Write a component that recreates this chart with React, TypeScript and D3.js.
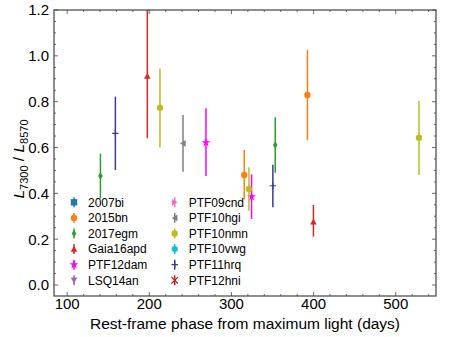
import React from "react";
import * as d3 from "d3";

// supernova names, legend order
const names = [
  "2007bi", "2015bn", "2017egm", "Gaia16apd", "PTF12dam", "LSQ14an",
  "PTF09cnd", "PTF10hgi", "PTF10nmn", "PTF10vwg", "PTF11hrq", "PTF12hni",
];
const colors = [
  "#1f77b4", "#ff7f0e", "#2ca02c", "#d62728", "#ff00ff", "#9467bd",
  "#e377c2", "#7f7f7f", "#bcbd22", "#17becf", "#3b3b8f", "#b22222",
];
const markers = [
  "square", "circle", "thin_diamond", "tri_up", "star", "tri_down",
  "tri_right", "tri_left", "circle", "hexagon", "plus", "x",
];

// measured points: [phase (days), ratio, lower, upper]
const pts2015bn = [[315.6, 0.48, 0.374, 0.589], [392.5, 0.829, 0.633, 1.025]];
const pts2017egm = [[140.5, 0.476, 0.378, 0.573], [353.3, 0.611, 0.49, 0.732]];
const ptsGaia16apd = [[197.6, 0.912, 0.64, 1.26], [399.8, 0.276, 0.211, 0.349]];
const ptsPTF12dam = [[269, 0.621, 0.476, 0.771], [324.5, 0.385, 0.288, 0.483]];
const ptsPTF10hgi = [[241, 0.618, 0.494, 0.742]];
const ptsPTF10nmn = [[213, 0.774, 0.6, 0.945], [321.3, 0.419, 0.324, 0.514], [528.3, 0.643, 0.48, 0.803]];
const ptsPTF11hrq = [[158.7, 0.662, 0.502, 0.822], [350.4, 0.433, 0.339, 0.525]];

const series = [
  { idx: 1, pts: pts2015bn },
  { idx: 2, pts: pts2017egm },
  { idx: 3, pts: ptsGaia16apd },
  { idx: 4, pts: ptsPTF12dam },
  { idx: 7, pts: ptsPTF10hgi },
  { idx: 8, pts: ptsPTF10nmn },
  { idx: 10, pts: ptsPTF11hrq },
];

const xTicks = [100, 200, 300, 400, 500];
const yTicks = [0, 0.2, 0.4, 0.6, 0.8, 1.0, 1.2];

const FONT = "'Liberation Sans', Arial, Helvetica, sans-serif";

const poly = (n, r, rot = 0) => {
  const p = d3.range(n).map((i) => {
    const a = rot + (i * 2 * Math.PI) / n;
    return [r * Math.sin(a), -r * Math.cos(a)];
  });
  return "M" + p.map((q) => q.join(",")).join("L") + "Z";
};

const Marker = ({ kind, color, x, y }) => {
  const s = 3.2;
  switch (kind) {
    case "square":
      return <rect x={x - s} y={y - s} width={2 * s} height={2 * s} fill={color} />;
    case "circle":
      return <circle cx={x} cy={y} r={s} fill={color} />;
    case "thin_diamond":
      return <path transform={`translate(${x},${y}) scale(0.6,1)`} d={poly(4, s * 1.2)} fill={color} />;
    case "tri_up":
      return <path transform={`translate(${x},${y + 0.8})`} d={poly(3, s * 1.2)} fill={color} />;
    case "tri_down":
      return <path transform={`translate(${x},${y - 0.8}) rotate(180)`} d={poly(3, s * 1.2)} fill={color} />;
    case "tri_left":
      return <path transform={`translate(${x + 0.8},${y}) rotate(-90)`} d={poly(3, s * 1.2)} fill={color} />;
    case "tri_right":
      return <path transform={`translate(${x - 0.8},${y}) rotate(90)`} d={poly(3, s * 1.2)} fill={color} />;
    case "hexagon":
      return <path transform={`translate(${x},${y})`} d={poly(6, s * 1.1)} fill={color} />;
    case "star":
      return (
        <path
          transform={`translate(${x},${y})`}
          d={d3.symbol(d3.symbolStar, 24)()}
          fill={color}
        />
      );
    case "plus":
      return (
        <path d={`M${x - s},${y}H${x + s}M${x},${y - s}V${y + s}`} stroke={color} strokeWidth={1.2} />
      );
    case "x":
      return (
        <path
          d={`M${x - s},${y - s}L${x + s},${y + s}M${x - s},${y + s}L${x + s},${y - s}`}
          stroke={color}
          strokeWidth={1.2}
        />
      );
    default:
      return null;
  }
};

export default function App() {
  const width = 450;
  const height = 337;
  const left = 54, right = 436, top = 10, bottom = 296;

  const x = d3.scaleLinear().domain([84, 549]).range([left, right]);
  const y = d3.scaleLinear().domain([-0.048, 1.2]).range([bottom, top]);

  const xMinor = d3.range(100, 549, 20);
  const yMinor = d3.range(0, 1.2001, 0.05);
  const axisColor = "#444";

  return (
    <svg
      width={width}
      height={height}
      style={{ position: "absolute", left: 0, top: 0, background: "#fff" }}
      fontFamily={FONT}
    >
      <defs>
        <clipPath id="plot">
          <rect x={left} y={top} width={right - left} height={bottom - top} />
        </clipPath>
      </defs>

      {/* ticks, inward on all four sides */}
      <g stroke={axisColor} strokeWidth={0.8}>
        {xMinor.map((t) => {
          const major = t % 100 === 0;
          const l = major ? 4 : 2;
          return (
            <g key={"x" + t}>
              <line x1={x(t)} x2={x(t)} y1={bottom} y2={bottom - l} />
              <line x1={x(t)} x2={x(t)} y1={top} y2={top + l} />
            </g>
          );
        })}
        {yMinor.map((t, i) => {
          const major = i % 4 === 0;
          const l = major ? 4 : 2;
          return (
            <g key={"y" + i}>
              <line x1={left} x2={left + l} y1={y(t)} y2={y(t)} />
              <line x1={right} x2={right - l} y1={y(t)} y2={y(t)} />
            </g>
          );
        })}
      </g>

      {/* data */}
      <g clipPath="url(#plot)">
        {series.map((s) =>
          s.pts.map((p, j) => (
            <g key={names[s.idx] + j}>
              <line
                x1={x(p[0])}
                x2={x(p[0])}
                y1={y(p[2])}
                y2={y(p[3])}
                stroke={colors[s.idx]}
                strokeWidth={1.5}
              />
              <Marker kind={markers[s.idx]} color={colors[s.idx]} x={x(p[0])} y={y(p[1])} />
            </g>
          ))
        )}
      </g>

      <rect
        x={left}
        y={top}
        width={right - left}
        height={bottom - top}
        fill="none"
        stroke={axisColor}
        strokeWidth={1.2}
      />

      {/* tick labels */}
      <g fontSize={15} fill="#000">
        {xTicks.map((t) => (
          <text key={t} x={x(t)} y={bottom + 13} textAnchor="middle">
            {t}
          </text>
        ))}
        {yTicks.map((t) => (
          <text key={t} x={left - 5} y={y(t)} dy="0.36em" textAnchor="end">
            {d3.format(".1f")(t)}
          </text>
        ))}
      </g>

      <text x={(left + right) / 2} y={329} fontSize={15.5} textAnchor="middle">
        Rest-frame phase from maximum light (days)
      </text>

      <text transform="translate(24,159) rotate(-90)" fontSize={15.5} textAnchor="middle">
        <tspan fontStyle="italic">L</tspan>
        <tspan fontSize={11} dy={4}>7300</tspan>
        <tspan dy={-4}> / </tspan>
        <tspan fontStyle="italic">L</tspan>
        <tspan fontSize={11} dy={4}>8570</tspan>
      </text>

      {/* legend */}
      <g fontSize={12}>
        {names.map((n, i) => {
          const col = Math.floor(i / 6);
          const row = i % 6;
          const mx = col === 0 ? 74 : 174.7;
          const my = 202.3 + row * 15.6;
          return (
            <g key={n}>
              <line x1={mx} x2={mx} y1={my - 5} y2={my + 5} stroke={colors[i]} strokeWidth={1.5} />
              <Marker kind={markers[i]} color={colors[i]} x={mx} y={my} />
              <text x={mx + 14} y={my} dy="0.36em">
                {n}
              </text>
            </g>
          );
        })}
      </g>
    </svg>
  );
}
